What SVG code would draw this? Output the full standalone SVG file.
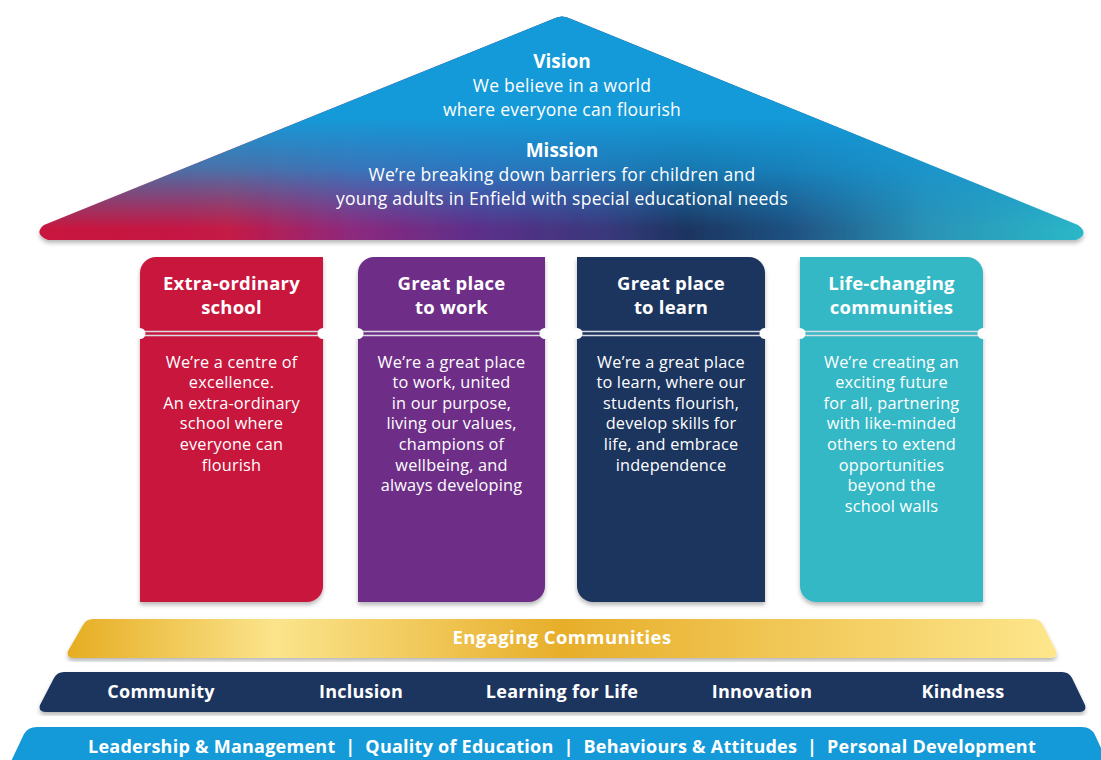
<svg xmlns="http://www.w3.org/2000/svg" width="1101" height="760" viewBox="0 0 1101 760">
<defs>
<style>
text{font-family:"Open Sans","Liberation Sans",sans-serif;fill:#fff;text-anchor:middle}
.h{font-weight:700;font-size:18.5px;letter-spacing:0.2px}
.b{font-size:16.3px;letter-spacing:0.2px}
.r{font-size:17.5px;letter-spacing:0.25px}
.t{font-weight:700;font-size:19px}
.band{font-weight:700;font-size:18px;letter-spacing:0.25px}
.line{stroke:#d9dce2;stroke-width:1.3}
.notch{fill:#fff}
</style>
<filter id="sh" x="-5%" y="-5%" width="110%" height="115%">
<feDropShadow dx="0" dy="3" stdDeviation="2.2" flood-color="#000" flood-opacity="0.28"/>
</filter>
<linearGradient id="roofH" gradientUnits="userSpaceOnUse" x1="40" y1="0" x2="1085" y2="0">
<stop offset="0" stop-color="#c8163e"/>
<stop offset="0.18" stop-color="#c41a46"/>
<stop offset="0.3" stop-color="#8c2a7e"/>
<stop offset="0.42" stop-color="#5c2f8a"/>
<stop offset="0.54" stop-color="#3a387c"/>
<stop offset="0.62" stop-color="#1b3560"/>
<stop offset="0.72" stop-color="#1f5282"/>
<stop offset="0.85" stop-color="#2a93b6"/>
<stop offset="1" stop-color="#2ab8c8"/>
</linearGradient>
<linearGradient id="roofV" gradientUnits="userSpaceOnUse" x1="0" y1="16" x2="0" y2="240">
<stop offset="0" stop-color="#149ad8"/>
<stop offset="0.45" stop-color="#149ad8"/>
<stop offset="0.68" stop-color="#1596d4" stop-opacity="0.7"/>
<stop offset="0.95" stop-color="#1590d0" stop-opacity="0"/>
</linearGradient>
<linearGradient id="gold" gradientUnits="userSpaceOnUse" x1="68" y1="0" x2="1056" y2="0">
<stop offset="0" stop-color="#e6ad22"/>
<stop offset="0.21" stop-color="#fbe48c"/>
<stop offset="0.5" stop-color="#e7ae2a"/>
<stop offset="1" stop-color="#fde68c"/>
</linearGradient>
</defs>

<g id="roof">
<path d="M44,225 L553,19 Q562,14 571,19 L1078,225 Q1090,234 1076,240 L48,240 Q33,234 44,225 Z" fill="url(#roofH)" filter="url(#sh)"/>
<path d="M44,225 L553,19 Q562,14 571,19 L1078,225 Q1090,234 1076,240 L48,240 Q33,234 44,225 Z" fill="url(#roofV)"/>
<text class="t" x="562" y="68">Vision</text>
<text class="r" x="562" y="92">We believe in a world</text>
<text class="r" x="562" y="116">where everyone can flourish</text>
<text class="t" x="562" y="157">Mission</text>
<text class="r" x="562" y="181">We’re breaking down barriers for children and</text>
<text class="r" x="562" y="205">young adults in Enfield with special educational needs</text>
</g>

<g id="pillar-school">
<path d="M140,273 A16,16 0 0 1 156,257 L323,257 L323,586 A16,16 0 0 1 307,602 L140,602 Z" fill="#c8163e" filter="url(#sh)"/>
<line class="line" x1="140" y1="331.5" x2="323" y2="331.5"/>
<line class="line" x1="140" y1="335.5" x2="323" y2="335.5"/>
<circle class="notch" cx="140" cy="333.5" r="5.5"/>
<circle class="notch" cx="323" cy="333.5" r="5.5"/>
<text class="h" x="231.5" y="290">Extra-ordinary</text>
<text class="h" x="231.5" y="314">school</text>
<text class="b" x="231.5" y="368">We’re a centre of</text>
<text class="b" x="231.5" y="388">excellence.</text>
<text class="b" x="231.5" y="409">An extra-ordinary</text>
<text class="b" x="231.5" y="429">school where</text>
<text class="b" x="231.5" y="450">everyone can</text>
<text class="b" x="231.5" y="471">flourish</text>
</g>

<g id="pillar-work">
<path d="M358,273 A16,16 0 0 1 374,257 L545,257 L545,586 A16,16 0 0 1 529,602 L358,602 Z" fill="#6e2f88" filter="url(#sh)"/>
<line class="line" x1="358" y1="331.5" x2="545" y2="331.5"/>
<line class="line" x1="358" y1="335.5" x2="545" y2="335.5"/>
<circle class="notch" cx="358" cy="333.5" r="5.5"/>
<circle class="notch" cx="545" cy="333.5" r="5.5"/>
<text class="h" x="451.5" y="290">Great place</text>
<text class="h" x="451.5" y="314">to work</text>
<text class="b" x="451.5" y="368">We’re a great place</text>
<text class="b" x="451.5" y="388">to work, united</text>
<text class="b" x="451.5" y="409">in our purpose,</text>
<text class="b" x="451.5" y="429">living our values,</text>
<text class="b" x="451.5" y="450">champions of</text>
<text class="b" x="451.5" y="471">wellbeing, and</text>
<text class="b" x="451.5" y="491">always developing</text>
</g>

<g id="pillar-learn">
<path d="M577,257 L749,257 A16,16 0 0 1 765,273 L765,602 L593,602 A16,16 0 0 1 577,586 Z" fill="#1c355e" filter="url(#sh)"/>
<line class="line" x1="577" y1="331.5" x2="765" y2="331.5"/>
<line class="line" x1="577" y1="335.5" x2="765" y2="335.5"/>
<circle class="notch" cx="577" cy="333.5" r="5.5"/>
<circle class="notch" cx="765" cy="333.5" r="5.5"/>
<text class="h" x="671" y="290">Great place</text>
<text class="h" x="671" y="314">to learn</text>
<text class="b" x="671" y="368">We’re a great place</text>
<text class="b" x="671" y="388">to learn, where our</text>
<text class="b" x="671" y="409">students flourish,</text>
<text class="b" x="671" y="429">develop skills for</text>
<text class="b" x="671" y="450">life, and embrace</text>
<text class="b" x="671" y="471">independence</text>
</g>

<g id="pillar-communities">
<path d="M800,257 L967,257 A16,16 0 0 1 983,273 L983,602 L816,602 A16,16 0 0 1 800,586 Z" fill="#36b8c5" filter="url(#sh)"/>
<line class="line" x1="800" y1="331.5" x2="983" y2="331.5"/>
<line class="line" x1="800" y1="335.5" x2="983" y2="335.5"/>
<circle class="notch" cx="800" cy="333.5" r="5.5"/>
<circle class="notch" cx="983" cy="333.5" r="5.5"/>
<text class="h" x="891.5" y="290">Life-changing</text>
<text class="h" x="891.5" y="314">communities</text>
<text class="b" x="891.5" y="368">We’re creating an</text>
<text class="b" x="891.5" y="388">exciting future</text>
<text class="b" x="891.5" y="409">for all, partnering</text>
<text class="b" x="891.5" y="429">with like-minded</text>
<text class="b" x="891.5" y="450">others to extend</text>
<text class="b" x="891.5" y="471">opportunities</text>
<text class="b" x="891.5" y="491">beyond the</text>
<text class="b" x="891.5" y="512">school walls</text>
</g>

<g id="band-engaging">
<path d="M68,651 L83,625 Q86,619 93,619 L1033,619 Q1040,619 1043,625 L1056,651 Q1058,658 1050,658 L74,658 Q66,658 68,651 Z" fill="url(#gold)" filter="url(#sh)"/>
<text class="band" x="562" y="644" style="font-size:18.5px;letter-spacing:0.4px">Engaging Communities</text>
</g>

<g id="band-values">
<path d="M40,705 L54,678 Q57,672 64,672 L1062,672 Q1069,672 1072,678 L1085,705 Q1087,712 1079,712 L46,712 Q38,712 40,705 Z" fill="#1c355e" filter="url(#sh)"/>
<text class="band" x="161" y="698">Community</text>
<text class="band" x="361" y="698">Inclusion</text>
<text class="band" x="562" y="698">Learning for Life</text>
<text class="band" x="762" y="698">Innovation</text>
<text class="band" x="963" y="698">Kindness</text>
</g>

<g id="band-ofsted">
<path d="M6,772 L24,734 Q28,727 37,727 L1082,727 Q1091,727 1095,735 L1112,772 Z" fill="#149ad8"/>
<text class="band" x="562" y="753" xml:space="preserve">Leadership &amp; Management  |  Quality of Education  |  Behaviours &amp; Attitudes  |  Personal Development</text>
</g>

<g id="connectors"/>
</svg>
